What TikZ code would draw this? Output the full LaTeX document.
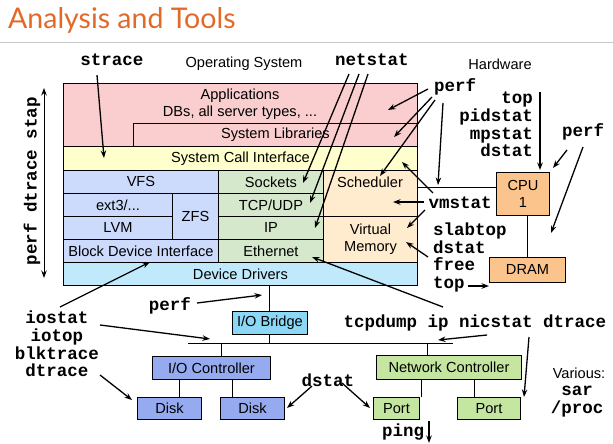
\documentclass[tikz,border=0pt]{standalone}
\usepackage{fontspec}
\setmainfont{Liberation Sans}
\setmonofont{Liberation Mono}
\newfontfamily\titlefont{Lato}
\usetikzlibrary{arrows.meta}
\definecolor{pinkc}{RGB}{250,206,206}
\definecolor{yelc}{RGB}{255,255,206}
\definecolor{bluec}{RGB}{204,219,252}
\definecolor{greenc}{RGB}{214,232,204}
\definecolor{orlight}{RGB}{255,236,206}
\definecolor{cyanl}{RGB}{192,234,252}
\definecolor{cyanb}{RGB}{140,215,245}
\definecolor{blueio}{RGB}{150,170,240}
\definecolor{greenio}{RGB}{196,230,160}
\definecolor{orhw}{RGB}{250,196,140}
\definecolor{titlec}{RGB}{226,106,40}
\begin{document}
\begin{tikzpicture}[x=1pt,y=-1pt,
  box/.style={draw=black, line width=0.9pt, inner sep=0pt, anchor=north west, font=\fontsize{14.6}{17}\selectfont, align=center},
  tool/.style={font=\fontsize{17.5}{17.8}\selectfont\ttfamily\bfseries, inner sep=0pt},
  lbl/.style={font=\fontsize{14.6}{17}\selectfont, inner sep=0pt, align=center},
  arr/.style={-{Stealth[length=7.5pt,width=5.5pt]}, line width=1.3pt},
  darr/.style={{Stealth[length=7.5pt,width=5.5pt]}-{Stealth[length=7.5pt,width=5.5pt]}, line width=1pt},
  wire/.style={line width=1pt}
]
\useasboundingbox (0,0) rectangle (613,444);
\fill[white] (0,0) rectangle (613,444);
% title
\node[anchor=base west, inner sep=0pt, text=titlec, font=\titlefont\fontsize{28.5}{30}\selectfont] (title) at (8,29) {Analysis and Tools};
\draw[gray!45, line width=1pt] (0,43) -- (613,43);

% OS stack
\node[box, fill=pinkc, minimum width=354pt, minimum height=63pt] (apps) at (63,83) {};
\node[lbl] (apptext) at (240,104.5) {Applications\\DBs, all server types, ...};
\node[box, fill=pinkc, minimum width=284pt, minimum height=23pt] (syslib) at (133,123) {System Libraries};
\node[box, fill=yelc, minimum width=354pt, minimum height=24pt] (sci) at (63,146) {System Call Interface};
\node[box, fill=bluec, minimum width=155pt, minimum height=23pt] (vfs) at (63,170) {VFS};
\node[box, fill=bluec, minimum width=109pt, minimum height=23pt] (ext3) at (63,193) {ext3/...};
\node[box, fill=bluec, minimum width=46pt, minimum height=46pt] (zfs) at (172,193) {ZFS};
\node[box, fill=bluec, minimum width=109pt, minimum height=23pt] (lvm) at (63,216) {LVM};
\node[box, fill=bluec, minimum width=155pt, minimum height=23pt] (bdi) at (63,239) {Block Device Interface};
\node[box, fill=greenc, minimum width=105pt, minimum height=23pt] (sockets) at (218,170) {Sockets};
\node[box, fill=greenc, minimum width=105pt, minimum height=23pt] (tcp) at (218,193) {TCP/UDP};
\node[box, fill=greenc, minimum width=105pt, minimum height=23pt] (ip) at (218,216) {IP};
\node[box, fill=greenc, minimum width=105pt, minimum height=23pt] (eth) at (218,239) {Ethernet};
\node[box, fill=orlight, minimum width=94pt, minimum height=46pt] (sched) at (323,170) {};
\node[lbl] (schedtext) at (370,182) {Scheduler};
\node[box, fill=orlight, minimum width=94pt, minimum height=46pt] (vm) at (323,216) {Virtual\\Memory};
\node[box, fill=cyanl, minimum width=354pt, minimum height=23pt] (dd) at (63,262) {Device Drivers};

% hardware
\node[box, fill=orhw, minimum width=53pt, minimum height=43pt] (cpu) at (496,172) {CPU\\1};
\node[box, fill=orhw, minimum width=76pt, minimum height=25pt] (dram) at (489,257) {DRAM};
\node[box, fill=cyanb, minimum width=75pt, minimum height=23pt] (iob) at (232,311) {I/O Bridge};
\node[box, fill=blueio, minimum width=118pt, minimum height=23pt] (ioc) at (152,356) {I/O Controller};
\node[box, fill=blueio, minimum width=64pt, minimum height=22pt] (disk1) at (137,397) {Disk};
\node[box, fill=blueio, minimum width=64pt, minimum height=22pt] (disk2) at (220,397) {Disk};
\node[box, fill=greenio, minimum width=145pt, minimum height=24pt] (nc) at (376,355) {Network Controller};
\node[box, fill=greenio, minimum width=46pt, minimum height=22pt] (port1) at (373,397) {Port};
\node[box, fill=greenio, minimum width=63pt, minimum height=22pt] (port2) at (457,397) {Port};

% wires
\coordinate (busL) at (188,343);
\coordinate (busR) at (453,343);
\coordinate (bIOC) at (221,343);
\coordinate (bNC) at (427,343);
\coordinate (cD1) at (179,379);
\coordinate (cD2) at (232,379);
\coordinate (cP1) at (421,379);
\coordinate (cP2) at (474,379);
\coordinate (cpuL) at (417,187);
\draw[wire] (busL) -- (busR);
\draw[wire] (iob.north) -- (iob.north |- dd.south);
\draw[wire] (iob.south) -- (iob.south |- busL);
\draw[wire] (bIOC) -- (bIOC |- ioc.north);
\draw[wire] (bNC) -- (bNC |- nc.north);
\draw[wire] (cD1) -- (cD1 |- disk1.north);
\draw[wire] (cD2) -- (cD2 |- disk2.north);
\draw[wire] (cP1) -- (cP1 |- port1.north);
\draw[wire] (cP2) -- (cP2 |- port2.north);
\draw[wire] (cpuL) -- (cpuL -| cpu.west);
\draw[wire] (dram.north) -- (dram.north |- cpu.south);

% labels
\node[tool] (strace) at (112,60) {strace};
\node[lbl] (os) at (244,64) {Operating System};
\node[tool] (netstat) at (372,60) {netstat};
\node[lbl] (hw) at (500,64) {Hardware};
\node[tool] (perf1) at (455,87) {perf};
\node[tool, align=right, anchor=east] (topstack) at (533,124.5) {top\\pidstat\\mpstat\\dstat};
\node[tool] (perf2) at (583,132) {perf};
\node[tool] (vmstat) at (460,203) {vmstat};
\node[tool, align=left, anchor=west] (slab) at (433,257.5) {slabtop\\dstat\\free\\top};
\node[tool] (tcpd) at (475,323) {tcpdump ip nicstat dtrace};
\node[lbl] (various) at (579,373) {Various:};
\node[tool, align=center] (sar) at (577,401.5) {sar\\/proc};
\node[tool] (ping) at (403,432) {ping};
\node[tool] (dstat3) at (328,380) {dstat};
\node[tool] (perf3) at (170,306) {perf};
\node[tool, align=center] (iostat) at (57,344) {iostat\\iotop\\blktrace\\dtrace};
\node[tool, rotate=90] (stap) at (32,181) {perf dtrace stap};

% arrow coordinates
\coordinate (a1s) at (97,75);   \coordinate (a1e) at (104,158);
\coordinate (n1s) at (349,74);  \coordinate (n1e) at (303,183);
\coordinate (n2s) at (359,74);  \coordinate (n2e) at (310,203);
\coordinate (n3s) at (368,74);  \coordinate (n3e) at (315,228);
\coordinate (p1s) at (428,89);  \coordinate (p1e) at (388,110);
\coordinate (p2s) at (432,97);  \coordinate (p2e) at (394,137);
\coordinate (p3s) at (435,100); \coordinate (p3e) at (380,176);
\coordinate (p4s) at (443,103); \coordinate (p4e) at (438,185);
\coordinate (ts) at (540,92);   \coordinate (te) at (540,170);
\coordinate (q1s) at (567,150); \coordinate (q1e) at (553,168);
\coordinate (q2s) at (583,147); \coordinate (q2e) at (551,233);
\coordinate (v1s) at (433,193); \coordinate (v1e) at (402,162);
\coordinate (v2s) at (424,202); \coordinate (v2e) at (393,202);
\coordinate (v3s) at (425,210); \coordinate (v3e) at (407,228);
\coordinate (s1s) at (428,257); \coordinate (s1e) at (406,242);
\coordinate (tds) at (468,286);
\coordinate (e1s) at (443,307); \coordinate (e1e) at (312,257);
\coordinate (b1s) at (487,335); \coordinate (b1e) at (438,340);
\coordinate (dts) at (529,337); \coordinate (dte) at (524,397);
\coordinate (pgs) at (429,421); \coordinate (pge) at (429,443);
\coordinate (d1s) at (312,386); \coordinate (d1e) at (287,408);
\coordinate (d2s) at (342,383); \coordinate (d2e) at (370,408);
\coordinate (i1s) at (60,307);  \coordinate (i1e) at (150,262);
\coordinate (i2s) at (100,325); \coordinate (i2e) at (210,339);
\coordinate (i3s) at (100,375); \coordinate (i3e) at (132,400);
\coordinate (r1s) at (197,303); \coordinate (r1e) at (262,295);
\coordinate (sts) at (44,278);  \coordinate (ste) at (44,88);

% arrows
\draw[arr] (a1s) -- (a1e);
\draw[arr] (n1s) -- (n1e);
\draw[arr] (n2s) -- (n2e);
\draw[arr] (n3s) -- (n3e);
\draw[arr] (p1s) -- (p1e);
\draw[arr] (p2s) -- (p2e);
\draw[arr] (p3s) -- (p3e);
\draw[arr] (p4s) -- (p4e);
\draw[arr] (ts) -- (te);
\draw[arr] (q1s) -- (q1e);
\draw[arr] (q2s) -- (q2e);
\draw[arr] (v1s) -- (v1e);
\draw[arr] (v2s) -- (v2e);
\draw[arr] (v3s) -- (v3e);
\draw[arr] (s1s) -- (s1e);
\draw[arr] (tds) -- (tds -| dram.west);
\draw[arr] (e1s) -- (e1e);
\draw[arr] (b1s) -- (b1e);
\draw[arr] (dts) -- (dte);
\draw[arr] (pgs) -- (pge);
\draw[arr] (d1s) -- (d1e);
\draw[arr] (d2s) -- (d2e);
\draw[arr] (i1s) -- (i1e);
\draw[arr] (i2s) -- (i2e);
\draw[arr] (i3s) -- (i3e);
\draw[arr] (r1s) -- (r1e);
\draw[darr] (sts) -- (ste);
\end{tikzpicture}
\end{document}
